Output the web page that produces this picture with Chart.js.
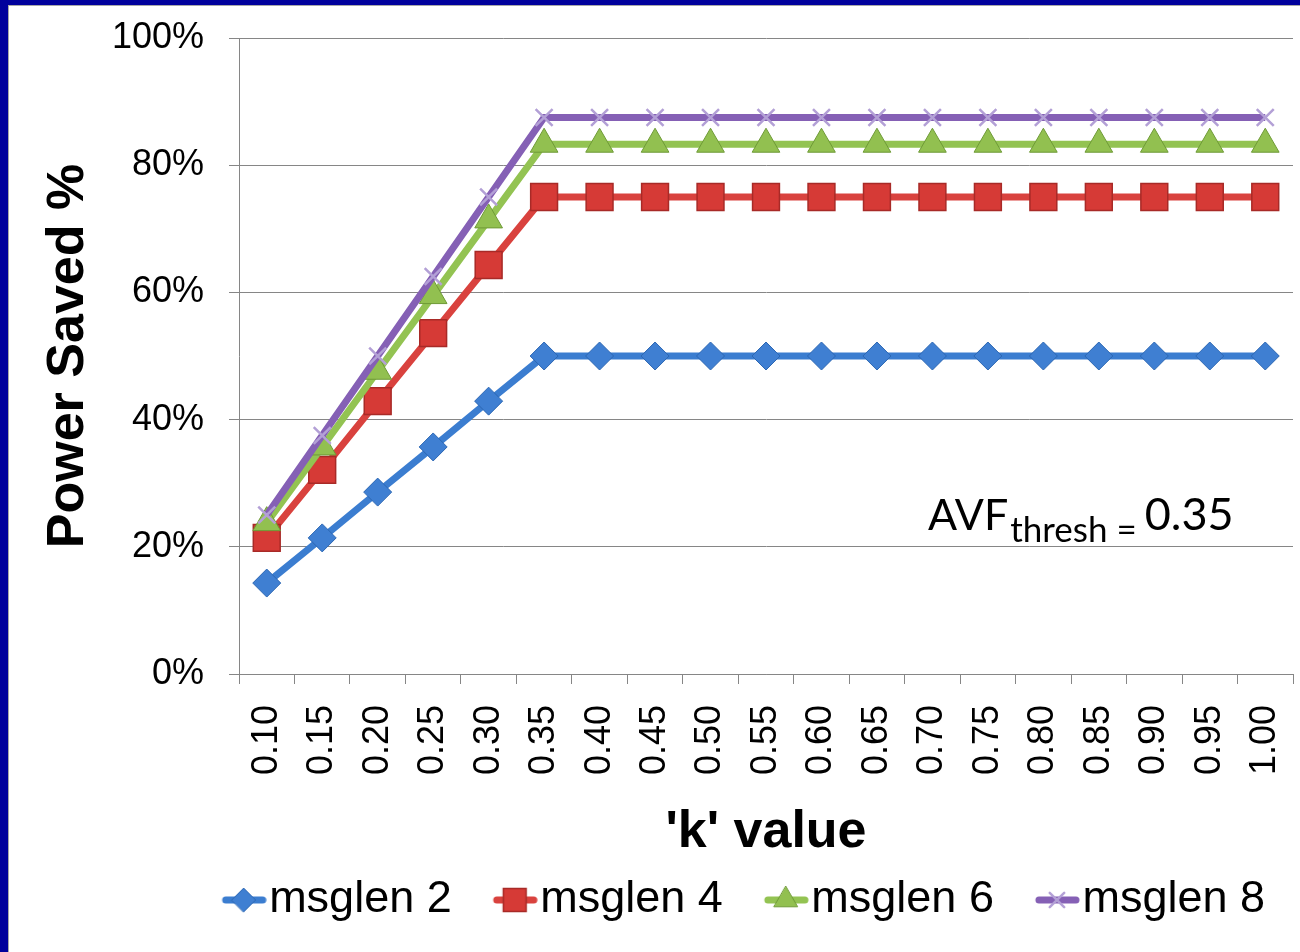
<!DOCTYPE html>
<html>
<head>
<meta charset="utf-8">
<title>Power Saved %</title>
<script src="https://cdn.jsdelivr.net/npm/chart.js@4.4.1/dist/chart.umd.min.js"></script>
<style>
  html, body { margin: 0; padding: 0; background: #fff; }
  #frame { width: 1300px; height: 952px; box-sizing: border-box;
           border-left: 8px solid #00009c; border-top: 5px solid #00009c; }
  #inner { width: 1292px; height: 947px; box-sizing: border-box; background: #fff;
           border-left: 1px solid #a8a8a8; border-top: 1px solid #a8a8a8; }
  canvas { display: block; }
</style>
</head>
<body>
<div id="frame"><div id="inner"><canvas id="grafico" width="1291" height="946"></canvas></div></div>
<script>
// valores
const valoresK = ['0.10', '0.15', '0.20', '0.25', '0.30', '0.35', '0.40', '0.45', '0.50', '0.55',
                  '0.60', '0.65', '0.70', '0.75', '0.80', '0.85', '0.90', '0.95', '1.00'];
const msglen2 = [14.3, 21.4, 28.6, 35.7, 42.9, 50, 50, 50, 50, 50, 50, 50, 50, 50, 50, 50, 50, 50, 50];
const msglen4 = [21.4, 32.1, 42.9, 53.6, 64.3, 75, 75, 75, 75, 75, 75, 75, 75, 75, 75, 75, 75, 75, 75];
const msglen6 = [23.8, 35.7, 47.6, 59.5, 71.4, 83.3, 83.3, 83.3, 83.3, 83.3, 83.3, 83.3, 83.3, 83.3, 83.3, 83.3, 83.3, 83.3, 83.3];
const msglen8 = [25, 37.5, 50, 62.5, 75, 87.5, 87.5, 87.5, 87.5, 87.5, 87.5, 87.5, 87.5, 87.5, 87.5, 87.5, 87.5, 87.5, 87.5];
const nomesSeries = ['msglen 2', 'msglen 4', 'msglen 6', 'msglen 8'];
const ticksY = [0, 20, 40, 60, 80, 100];

const CINZA = '#868686';
Chart.defaults.font.family = "Arial, 'Liberation Sans', sans-serif";
Chart.defaults.color = '#000';

const estilos = [
  { linha: '#3b7dd0', fundo: '#3f7fd2', borda: '#2c67b3', ponto: 'rectRot', raio: 14, bw: 1 },
  { linha: '#d9423e', fundo: '#d63a36', borda: '#a82a27', ponto: 'rect', raio: 19, bw: 1.5 },
  { linha: '#93c352', fundo: '#92c050', borda: '#6e9a36', ponto: 'triangle', raio: 16, bw: 1 },
  { linha: '#8560b5', fundo: '#b3a0d6', borda: '#b3a0d6', ponto: 'crossRot', raio: 12, bw: 2.5 }
];

// icones da legenda: linha + marcador
function iconeLegenda(e) {
  const c = document.createElement('canvas');
  c.width = 78; c.height = 40;
  const g = c.getContext('2d');
  g.strokeStyle = e.linha; g.lineWidth = 7; g.lineCap = 'round';
  g.beginPath(); g.moveTo(37, 20); g.lineTo(74, 20); g.stroke();
  g.fillStyle = e.fundo; g.strokeStyle = e.borda; g.lineWidth = e.bw;
  Chart.helpers.drawPoint(g, { pointStyle: e.ponto, radius: e.raio * 0.85, rotation: 0, borderWidth: e.bw }, 55, 20);
  return c;
}
const icones = estilos.map(iconeLegenda);

const notaAVF = {
  id: 'notaAVF',
  afterDraw(chart) {
    const ctx = chart.ctx;
    ctx.save();
    ctx.fillStyle = '#000';
    ctx.textBaseline = 'alphabetic';
    ctx.textAlign = 'left';
    let x = 919;
    ctx.font = '43px Lato';
    ctx.fillText('AVF', x, 524);
    x += ctx.measureText('AVF').width + 2;
    ctx.font = '35px Lato';
    ctx.fillText('thresh =', x, 536);
    x += ctx.measureText('thresh =').width + 8;
    ctx.font = '45px Lato';
    ctx.fillText('0.35', x, 524);
    ctx.restore();
  }
};

const series = [msglen2, msglen4, msglen6, msglen8];

new Chart(document.getElementById('grafico'), {
  type: 'line',
  data: {
    labels: valoresK,
    datasets: series.map((dados, i) => ({
      label: nomesSeries[i],
      data: dados,
      order: 4 - i,
      borderColor: estilos[i].linha,
      borderWidth: 7,
      tension: 0,
      fill: false,
      pointStyle: estilos[i].ponto,
      pointRadius: estilos[i].raio,
      pointHoverRadius: estilos[i].raio,
      pointBackgroundColor: estilos[i].fundo,
      pointBorderColor: estilos[i].borda,
      pointBorderWidth: estilos[i].bw
    }))
  },
  options: {
    responsive: false,
    animation: false,
    layout: { autoPadding: false, padding: { top: 32, right: 7, bottom: 19.5, left: 0 } },
    plugins: {
      tooltip: { enabled: false },
      legend: {
        position: 'bottom',
        align: 'end',
        labels: {
          usePointStyle: true,
          pointStyleWidth: 38,
          padding: 28,
          color: '#000',
          font: { size: 45 },
          sort: (a, b) => a.datasetIndex - b.datasetIndex,
          generateLabels(chart) {
            const itens = Chart.defaults.plugins.legend.labels.generateLabels(chart);
            itens.forEach(it => { it.pointStyle = icones[it.datasetIndex]; });
            return itens;
          }
        }
      }
    },
    scales: {
      x: {
        offset: true,
        grid: { display: true, drawOnChartArea: false, drawTicks: true, tickLength: 10, offset: true, color: CINZA },
        border: { color: CINZA },
        ticks: { minRotation: 90, maxRotation: 90, autoSkip: false, padding: 21, font: { size: 36 } },
        title: { display: true, text: "'k' value", font: { size: 52, weight: 'bold', lineHeight: 1.2 }, padding: { top: 0, bottom: -14 } },
        afterFit(s) { s.height = 175.5; s.paddingLeft = 0; s.paddingRight = 0; }
      },
      y: {
        min: 0,
        max: 100,
        afterBuildTicks(s) { s.ticks = ticksY.map(v => ({ value: v })); },
        ticks: { callback: v => v + '%', padding: 25, font: { size: 36 } },
        grid: { color: CINZA, tickLength: 10 },
        border: { color: CINZA },
        title: { display: true, text: 'Power Saved %', font: { size: 52, weight: 'bold', lineHeight: 1.2 }, padding: { top: 28, bottom: 0 } },
        afterFit(s) { s.width = 230; s.paddingTop = 0; s.paddingBottom = 0; }
      }
    }
  },
  plugins: [notaAVF]
});
</script>
</body>
</html>
